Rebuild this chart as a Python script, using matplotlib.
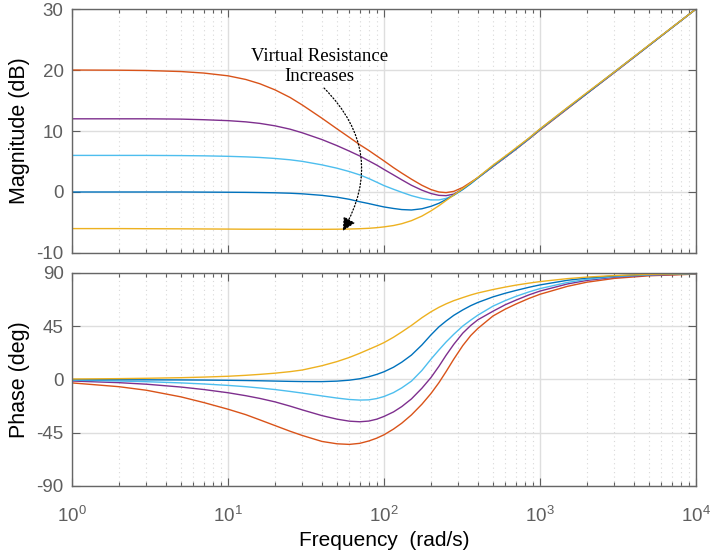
import numpy as np
import matplotlib
matplotlib.use("Agg")
import matplotlib.pyplot as plt
from matplotlib.ticker import LogLocator, NullFormatter

plt.rcParams['font.family'] = ['Liberation Sans', 'DejaVu Sans']
plt.rcParams['mathtext.fontset'] = 'custom'
plt.rcParams['mathtext.rm'] = 'Liberation Sans'
plt.rcParams['mathtext.it'] = 'Liberation Sans:italic'
plt.rcParams['mathtext.bf'] = 'Liberation Sans:bold'
plt.rcParams['axes.unicode_minus'] = False

# frequency points (rad/s)
freq = [1, 2, 3, 5, 7, 10, 13, 16, 20, 25, 30, 40, 50, 60, 70, 80, 90, 100, 115, 130,
        150, 175, 200, 225, 250, 280, 320, 360, 400, 500, 600, 700, 850, 1000, 1500,
        2000, 3000, 5000, 10000]

# magnitude (dB)
mag_orange = [20.0, 19.97, 19.92, 19.75, 19.5, 19.05, 18.45, 17.75, 16.75, 15.5, 14.25, 12.1,
              10.35, 8.95, 7.75, 6.8, 5.9, 5.1, 4.0, 3.1, 2.1, 1.1, 0.4, 0.0, -0.1, 0.1,
              0.75, 1.6, 2.35, 4.2, 5.7, 7.0, 8.7, 10.15, 13.65, 16.15, 19.6, 24.02, 30.0]
mag_purple = [12.0, 12.0, 12.0, 11.95, 11.85, 11.7, 11.5, 11.25, 10.85, 10.3, 9.7, 8.6, 7.6,
              6.7, 5.9, 5.1, 4.4, 3.7, 2.8, 2.0, 1.1, 0.3, -0.25, -0.55, -0.6, -0.35, 0.5,
              1.45, 2.3, 4.2, 5.7, 7.0, 8.7, 10.2, 13.7, 16.15, 19.6, 24.02, 30.0]
mag_lblue = [6.0, 6.0, 6.0, 5.97, 5.93, 5.85, 5.76, 5.66, 5.5, 5.28, 5.02, 4.45, 3.9,
             3.35, 2.8, 2.2, 1.6, 1.05, 0.45, -0.05, -0.6, -1.05, -1.3, -1.3, -1.05, -0.55,
             0.4, 1.35, 2.3, 4.25, 5.75, 7.05, 8.75, 10.25, 13.75, 16.2, 19.65, 24.05, 30.0]
mag_blue = [0.0, 0.0, 0.0, 0.0, -0.02, -0.04, -0.06, -0.09, -0.13, -0.2, -0.3, -0.55, -0.85,
            -1.2, -1.6, -1.9, -2.2, -2.45, -2.7, -2.88, -2.95, -2.75, -2.35, -1.85, -1.25,
            -0.5, 0.45, 1.4, 2.35, 4.3, 5.8, 7.1, 8.8, 10.3, 13.8, 16.2, 19.7, 24.05, 30.0]
mag_yellow = [-6.0, -6.0, -6.02, -6.04, -6.06, -6.08, -6.1, -6.1, -6.1, -6.12, -6.12, -6.12,
              -6.1, -6.07, -6.02, -5.95, -5.85, -5.72, -5.5, -5.2, -4.7, -3.95, -3.1, -2.25,
              -1.4, -0.5, 0.55, 1.5, 2.4, 4.4, 5.9, 7.2, 8.85, 10.35, 13.85, 16.3, 19.7,
              24.1, 30.0]

# phase (deg)
ph_orange = [-3.0, -6.2, -9.2, -14.8, -19.6, -25.2, -29.8, -34.2, -39.0, -43.8, -47.4, -52.4,
             -54.4, -54.9, -54.0, -52.0, -49.6, -46.8, -42.0, -37.0, -30.0, -21.0, -12.0,
             -2.8, 6.5, 17.0, 28.5, 37.0, 43.0, 53.5, 59.3, 63.5, 68.3, 71.8, 78.5, 82.0,
             85.2, 87.4, 88.8]
ph_purple = [-1.4, -2.8, -4.1, -6.5, -8.6, -11.3, -13.8, -16.1, -19.0, -22.6, -25.8, -30.6,
             -33.6, -35.3, -35.8, -35.2, -33.6, -31.3, -27.5, -23.0, -16.5, -7.5, 1.5, 11.0,
             20.3, 29.5, 39.0, 45.5, 50.3, 57.5, 63.0, 66.8, 71.3, 74.5, 80.5, 83.5, 86.2,
             87.9, 89.0]
ph_lblue = [-0.7, -1.4, -2.0, -3.0, -3.9, -5.1, -6.2, -7.3, -8.6, -10.2, -11.6, -14.0,
            -15.8, -17.0, -17.5, -17.3, -16.2, -14.5, -11.2, -7.2, -1.5, 7.5, 17.0, 24.8,
            31.5, 38.0, 45.0, 50.0, 54.2, 61.8, 66.5, 70.0, 73.8, 76.6, 81.8, 84.4, 86.7,
            88.2, 89.2]
ph_blue = [-0.2, -0.3, -0.4, -0.5, -0.6, -0.8, -1.0, -1.2, -1.45, -1.7, -1.85, -1.9, -1.5,
           -0.7, 0.5, 2.2, 4.2, 6.4, 10.2, 14.5, 20.5, 29.0, 37.5, 44.3, 49.2, 54.0, 58.6,
           62.2, 64.9, 69.6, 72.7, 75.0, 77.7, 79.7, 83.6, 85.5, 87.3, 88.6, 89.4]
ph_yellow = [0.3, 0.6, 0.9, 1.4, 1.9, 2.6, 3.4, 4.2, 5.2, 6.5, 7.9, 11.5, 15.0, 18.5, 22.0,
             25.3, 28.2, 31.0, 35.5, 40.0, 45.5, 52.0, 57.0, 60.8, 63.7, 66.4, 69.0, 71.2,
             72.9, 75.8, 77.9, 79.5, 81.2, 82.5, 85.0, 86.3, 87.6, 88.6, 89.3]

colors = ['#D95319', '#7E2F8E', '#4DBEEE', '#0072BD', '#EDB120']
mags = [mag_orange, mag_purple, mag_lblue, mag_blue, mag_yellow]
phases = [ph_orange, ph_purple, ph_lblue, ph_blue, ph_yellow]

fig = plt.figure(figsize=(7.12, 5.57), dpi=100)
ax1 = fig.add_axes([0.1011, 0.5458, 0.8764, 0.438])
ax2 = fig.add_axes([0.1011, 0.1275, 0.8764, 0.3829])

tick_col = '#5e5e5e'
for ax in (ax1, ax2):
    ax.set_xscale('log')
    ax.set_xlim(1, 1e4)
    ax.xaxis.set_minor_locator(LogLocator(base=10, subs=np.arange(2, 10), numticks=20))
    ax.xaxis.set_minor_formatter(NullFormatter())
    ax.grid(True, which='major', color='#dedede', lw=1.0)
    ax.grid(True, which='minor', axis='x', color='#d8d8d8', lw=0.8, ls=(0, (1, 3)))
    ax.set_axisbelow(True)
    ax.tick_params(which='both', direction='in', top=True, right=True,
                   colors=tick_col, labelsize=13.5, width=0.8)
    ax.tick_params(which='major', length=6)
    ax.tick_params(which='minor', length=3)
    ax.tick_params(axis='y', pad=6)
    for s in ax.spines.values():
        s.set_color('#666666')
        s.set_linewidth(1.0)

for m, c in zip(mags, colors):
    ax1.plot(freq, m, color=c, lw=1.0)
for p, c in zip(phases, colors):
    ax2.plot(freq, p, color=c, lw=1.0)

ax1.set_ylim(-10, 30)
ax1.set_yticks([-10, 0, 10, 20, 30])
ax1.tick_params(axis='x', labelbottom=False)
ax2.set_ylim(-90, 90)
ax2.set_yticks([-90, -45, 0, 45, 90])
ax2.tick_params(axis='x', pad=14)

ax1.set_ylabel('Magnitude (dB)', fontsize=15.5, color='black')
ax2.set_ylabel('Phase (deg)', fontsize=15.5, color='black')
ax2.set_xlabel('Frequency  (rad/s)', fontsize=15, color='black', labelpad=4)
ax1.yaxis.set_label_coords(-0.067, 0.5)
ax2.yaxis.set_label_coords(-0.067, 0.5)

ax1.text(0.397, 0.765, 'Virtual Resistance\nIncreases', transform=ax1.transAxes,
         ha='center', va='center', fontsize=13.5, family='Liberation Serif',
         linespacing=1.2)
ax1.annotate('', xy=(0.434, 0.09), xycoords='axes fraction',
             xytext=(0.404, 0.676), textcoords='axes fraction',
             arrowprops=dict(arrowstyle='-|>', connectionstyle='arc3,rad=-0.38',
                             color='black', lw=0.9, ls=':', mutation_scale=20,
                             shrinkA=0, shrinkB=0))

fig.savefig('out.png', dpi=100)
